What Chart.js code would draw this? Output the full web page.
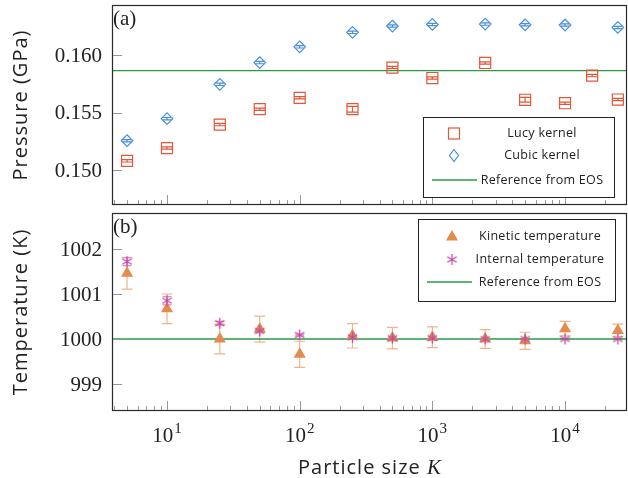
<!DOCTYPE html>
<html><head><meta charset="utf-8">
<script src="https://cdn.jsdelivr.net/npm/chart.js@4.4.1/dist/chart.umd.min.js"></script>
<style>
html,body{margin:0;padding:0;background:#fff;overflow:hidden;}
#wrap{position:relative;width:628px;height:478px;overflow:hidden;}
#c1box{position:absolute;left:0;top:0;width:628px;height:210px;}
#c2box{position:absolute;left:0;top:208px;width:628px;height:270px;}
</style></head><body>
<div id="wrap"><div id="c1box"><canvas id="c1"></canvas></div><div id="c2box"><canvas id="c2"></canvas></div></div>
<script>
// ---- data ----
const xLimits = [3.85, 29300];
const xMajorTicks = [10, 100, 1000, 10000];
const lucyK = [5, 10, 25, 50, 100, 250, 500, 1000, 2500, 5000, 10000, 16000, 25000];
const lucyP = [0.15081, 0.15192, 0.15396, 0.15530, 0.15629, 0.15530, 0.15892, 0.15801, 0.15932, 0.15612, 0.15582, 0.15822, 0.15614];
const lucyErr = [0.0001, 0.0001, 0.0001, 0.0001, 0.0001, 0.00025, 0.0001, 0.0001, 0.0001, 0.0002, 0.0001, 0.0001, 0.0001];
const cubicK = [5, 10, 25, 50, 100, 250, 500, 1000, 2500, 5000, 10000, 25000];
const cubicP = [0.15256, 0.15448, 0.15746, 0.15935, 0.16072, 0.16198, 0.16253, 0.16267, 0.16270, 0.16264, 0.16262, 0.16241];
const cubicErr = [0.0001, 0.0001, 0.0001, 0.0001, 0.0001, 0.0001, 0.0001, 0.0001, 0.0001, 0.0001, 0.0001, 0.0001];
const refPressure = 0.15865;
const pLimits = [0.14697, 0.16436];
const pTicks = [0.150, 0.155, 0.160];

const tempK = [5, 10, 25, 50, 100, 250, 500, 1000, 2500, 5000, 10000, 25000];
const kineticT = [1001.46, 1000.67, 1000.00, 1000.22, 999.66, 1000.07, 1000.02, 1000.04, 1000.00, 999.96, 1000.23, 1000.19];
const kineticErr = [0.35, 0.33, 0.33, 0.29, 0.29, 0.27, 0.24, 0.23, 0.21, 0.19, 0.16, 0.14];
const internalT = [1001.72, 1000.85, 1000.35, 1000.18, 1000.09, 1000.04, 1000.02, 1000.02, 1000.00, 1000.00, 1000.00, 1000.00];
const internalErr = [0.09, 0.09, 0.04, 0.04, 0.02, 0.02, 0.02, 0.02, 0.02, 0.01, 0.01, 0.01];
const refTemperature = 1000;
const tLimits = [998.40, 1002.80];
const tTicks = [999, 1000, 1001, 1002];

// ---- styles ----
const C_LUCY = '#e2563a', C_CUBIC = '#4a8fdc', C_REF = '#2a9a45';
const C_KIN = '#e48a4c', C_KIN_ERR = '#f0b48c', C_INT = '#c24aa6', C_INT_ERR = '#dc90c8';
const SERIF = '"Liberation Serif", "DejaVu Serif", serif';
const SANS = '"Open Sans", "Noto Sans", sans-serif';

function asterisk(color, r) {
  const c = document.createElement('canvas');
  const s = Math.ceil(r * 2 + 4); c.width = s; c.height = s;
  const g = c.getContext('2d'); g.strokeStyle = color; g.lineWidth = 1.3;
  const m = s / 2;
  [90, 30, 150].forEach(a => {
    const t = a * Math.PI / 180, dx = Math.cos(t) * r, dy = Math.sin(t) * r;
    g.beginPath(); g.moveTo(m - dx, m - dy); g.lineTo(m + dx, m + dy); g.stroke();
  });
  return c;
}
const starImg = asterisk(C_INT, 5.5);

const pts = (xs, ys) => xs.map((x, i) => ({x: x, y: ys[i]}));

function setSpacing(ctx, v) { if ('letterSpacing' in ctx) ctx.letterSpacing = v; }

const errorBars = {
  id: 'errorBars',
  beforeDatasetsDraw(chart) {
    const ctx = chart.ctx, xs = chart.scales.x, ys = chart.scales.y;
    chart.data.datasets.forEach(ds => {
      if (!ds.errs) return;
      ctx.save(); ctx.strokeStyle = ds.errColor; ctx.lineWidth = 1.2;
      ds.data.forEach((p, i) => {
        const x = xs.getPixelForValue(p.x);
        const y1 = ys.getPixelForValue(p.y + ds.errs[i]);
        const y2 = ys.getPixelForValue(p.y - ds.errs[i]);
        const w = ds.capW;
        ctx.beginPath();
        ctx.moveTo(x, y1); ctx.lineTo(x, y2);
        ctx.moveTo(x - w, y1); ctx.lineTo(x + w, y1);
        ctx.moveTo(x - w, y2); ctx.lineTo(x + w, y2);
        ctx.stroke();
      });
      ctx.restore();
    });
  }
};

const frame = {
  id: 'frame',
  afterDraw(chart, args, opts) {
    const ctx = chart.ctx, a = chart.chartArea, xs = chart.scales.x, ys = chart.scales.y;
    ctx.save();
    // ticks
    ctx.strokeStyle = '#999'; ctx.lineWidth = 1;
    ctx.beginPath();
    for (let e = 0; e <= 4; e++) {
      for (let m = 1; m <= 9; m++) {
        const v = m * Math.pow(10, e);
        if (v < xLimits[0] || v > xLimits[1]) continue;
        const x = Math.round(xs.getPixelForValue(v)) + 0.5;
        const len = (m === 1) ? 10 : 5;
        ctx.moveTo(x, a.bottom); ctx.lineTo(x, a.bottom - len);
      }
    }
    opts.yTicks.forEach(v => {
      const y = Math.round(ys.getPixelForValue(v)) + 0.5;
      ctx.moveTo(a.left, y); ctx.lineTo(a.left + 10, y);
    });
    ctx.stroke();
    // y tick labels
    ctx.fillStyle = '#222'; ctx.font = '21px ' + SERIF; ctx.textAlign = 'right'; ctx.textBaseline = 'middle';
    opts.yTicks.forEach(v => {
      ctx.fillText(opts.fmt(v), a.left - 10, ys.getPixelForValue(v) + 1);
    });
    // y title
    ctx.save();
    ctx.translate(21, (a.top + a.bottom) / 2); ctx.rotate(-Math.PI / 2);
    ctx.font = '20px ' + SANS; setSpacing(ctx, '1px'); ctx.textAlign = 'center'; ctx.textBaseline = 'middle';
    ctx.fillText(opts.yTitle, 0, 0);
    ctx.restore();
    // border
    ctx.strokeStyle = '#2a2a2a'; ctx.lineWidth = 1.2;
    ctx.strokeRect(a.left + 0.5, a.top + 0.5, a.right - a.left - 1, a.bottom - a.top - 1);
    // panel label
    ctx.fillStyle = '#222'; ctx.font = '21px ' + SERIF; ctx.textAlign = 'left'; ctx.textBaseline = 'alphabetic';
    ctx.fillText(opts.label, a.left + 1, a.top + 20);
    // legend
    const L = opts.legend;
    ctx.fillStyle = '#fff'; ctx.fillRect(L.x, L.y, L.w, L.h);
    ctx.strokeStyle = '#222'; ctx.lineWidth = 1;
    ctx.strokeRect(L.x + 0.5, L.y + 0.5, L.w, L.h);
    ctx.font = '12.5px ' + SANS; setSpacing(ctx, '0.3px'); ctx.textAlign = 'center'; ctx.textBaseline = 'middle'; ctx.fillStyle = '#222';
    L.items.forEach((it, i) => {
      const y = L.y + L.rowY[i];
      ctx.fillText(it.text, L.textX, y);
      const mx = L.markX;
      ctx.save();
      if (it.kind === 'rect') {
        ctx.strokeStyle = it.color; ctx.lineWidth = 1.2; ctx.strokeRect(mx - 5.5, y - 5.5, 11, 11);
      } else if (it.kind === 'diamond') {
        ctx.strokeStyle = it.color; ctx.lineWidth = 1.2; ctx.beginPath();
        ctx.moveTo(mx, y - 6); ctx.lineTo(mx + 4.5, y); ctx.lineTo(mx, y + 6); ctx.lineTo(mx - 4.5, y); ctx.closePath(); ctx.stroke();
      } else if (it.kind === 'line') {
        ctx.strokeStyle = it.color; ctx.lineWidth = 1.3; ctx.beginPath();
        ctx.moveTo(L.lineX[0], y); ctx.lineTo(L.lineX[1], y); ctx.stroke();
      } else if (it.kind === 'triangle') {
        ctx.fillStyle = it.color; ctx.beginPath();
        ctx.moveTo(mx, y - 6); ctx.lineTo(mx + 6, y + 4.5); ctx.lineTo(mx - 6, y + 4.5); ctx.closePath(); ctx.fill();
      } else if (it.kind === 'star') {
        ctx.drawImage(starImg, mx - starImg.width / 2, y - starImg.height / 2);
      }
      ctx.restore();
    });
    setSpacing(ctx, '0px');
    // x labels
    if (opts.xLabels) {
      ctx.fillStyle = '#222'; ctx.textBaseline = 'alphabetic';
      xMajorTicks.forEach(v => {
        const x = xs.getPixelForValue(v);
        const ex = String(Math.round(Math.log10(v)));
        ctx.font = '21px ' + SERIF; const w1 = ctx.measureText('10').width;
        ctx.font = '15px ' + SERIF; const w2 = ctx.measureText(ex).width;
        const x0 = x - (w1 + w2 + 1) / 2;
        ctx.font = '21px ' + SERIF; ctx.textAlign = 'left';
        ctx.fillText('10', x0, a.bottom + 31);
        ctx.font = '15px ' + SERIF;
        ctx.fillText(ex, x0 + w1 + 1, a.bottom + 22);
      });
      ctx.font = '20px ' + SANS; setSpacing(ctx, '1px'); const t1 = 'Particle size ';
      const wA = ctx.measureText(t1).width;
      setSpacing(ctx, '0px');
      ctx.font = 'italic 21px ' + SERIF; const wB = ctx.measureText('K').width;
      const cx = (a.left + a.right) / 2, xs0 = cx - (wA + wB) / 2;
      ctx.font = '20px ' + SANS; setSpacing(ctx, '1px'); ctx.textAlign = 'left';
      ctx.fillText(t1, xs0, a.bottom + 63);
      setSpacing(ctx, '0px');
      ctx.font = 'italic 21px ' + SERIF;
      ctx.fillText('K', xs0 + wA, a.bottom + 63);
    }
    ctx.restore();
  }
};

function yScale(lim) {
  return {
    type: 'linear', min: lim[0], max: lim[1],
    afterFit: s => { s.width = 112; },
    grid: {display: false, drawTicks: false}, border: {display: false},
    ticks: {display: false}
  };
}

const common = {
  responsive: true, maintainAspectRatio: false, animation: false,
  plugins: {legend: {display: false}, tooltip: {enabled: false}},
  layout: {autoPadding: false, padding: {top: 5, right: 1, bottom: 5, left: 0}}
};

new Chart(document.getElementById('c1'), {
  type: 'scatter',
  data: {datasets: [
    {label: 'Reference from EOS', type: 'line', data: pts(xLimits, [refPressure, refPressure]), borderColor: C_REF, borderWidth: 1.3, pointRadius: 0, order: 3},
    {label: 'Lucy kernel', data: pts(lucyK, lucyP), errs: lucyErr, errColor: C_LUCY, capW: 5.5, pointStyle: 'rect', pointRadius: 7.8, borderColor: C_LUCY, backgroundColor: 'rgba(0,0,0,0)', borderWidth: 1.2},
    {label: 'Cubic kernel', data: pts(cubicK, cubicP), errs: cubicErr, errColor: C_CUBIC, capW: 4.5, pointStyle: 'rectRot', pointRadius: 5.8, borderColor: C_CUBIC, backgroundColor: 'rgba(0,0,0,0)', borderWidth: 1.2}
  ]},
  options: Object.assign({}, common, {
    scales: {
      x: {type: 'logarithmic', min: xLimits[0], max: xLimits[1], display: false},
      y: yScale(pLimits)
    },
    plugins: Object.assign({}, common.plugins, {frame: {
      label: '(a)', yTicks: pTicks, xLabels: false, yTitle: 'Pressure (GPa)', fmt: v => v.toFixed(3),
      legend: {x: 423, y: 117, w: 191, h: 80, rowY: [16.5, 38.5, 63], markX: 454, lineX: [432, 477], textX: 542,
        items: [{text: 'Lucy kernel', kind: 'rect', color: C_LUCY}, {text: 'Cubic kernel', kind: 'diamond', color: C_CUBIC}, {text: 'Reference from EOS', kind: 'line', color: C_REF}]}
    }})
  }),
  plugins: [errorBars, frame]
});

new Chart(document.getElementById('c2'), {
  type: 'scatter',
  data: {datasets: [
    {label: 'Reference from EOS', type: 'line', data: pts(xLimits, [refTemperature, refTemperature]), borderColor: C_REF, borderWidth: 1.3, pointRadius: 0, order: 3},
    {label: 'Kinetic temperature', data: pts(tempK, kineticT), errs: kineticErr, errColor: C_KIN_ERR, capW: 5.5, pointStyle: 'triangle', pointRadius: 7, borderColor: C_KIN, backgroundColor: C_KIN, borderWidth: 0, order: 2},
    {label: 'Internal temperature', data: pts(tempK, internalT), errs: internalErr, errColor: C_INT_ERR, capW: 4.5, pointStyle: starImg, pointRadius: 5.5, borderColor: C_INT, backgroundColor: C_INT, order: 1}
  ]},
  options: Object.assign({}, common, {
    scales: {
      x: {type: 'logarithmic', min: xLimits[0], max: xLimits[1], display: true,
          ticks: {display: false}, grid: {display: false, drawTicks: false}, border: {display: false},
          afterFit: s => { s.height = 62; }},
      y: yScale(tLimits)
    },
    plugins: Object.assign({}, common.plugins, {frame: {
      label: '(b)', yTicks: tTicks, xLabels: true, yTitle: 'Temperature (K)', fmt: v => String(v),
      legend: {x: 418, y: 11, w: 197, h: 82, rowY: [17, 40.5, 63], markX: 452, lineX: [427, 472], textX: 540,
        items: [{text: 'Kinetic temperature', kind: 'triangle', color: C_KIN}, {text: 'Internal temperature', kind: 'star', color: C_INT}, {text: 'Reference from EOS', kind: 'line', color: C_REF}]}
    }})
  }),
  plugins: [errorBars, frame]
});
</script>
</body></html>
